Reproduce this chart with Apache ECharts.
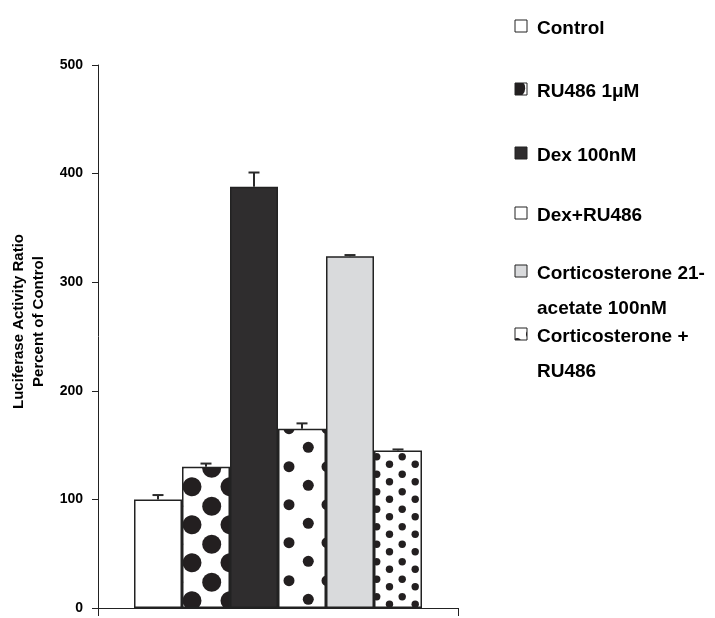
<!DOCTYPE html>
<html>
<head>
<meta charset="utf-8">
<script src="https://cdn.jsdelivr.net/npm/echarts@6/dist/echarts.min.js"></script>
<style>html,body{margin:0;padding:0;background:#fff}#c{width:715px;height:618px}</style>
</head>
<body>
<div id="c"></div>
<script>
const categories = [''];
const seriesNames = ['Control', 'RU486 1μM', 'Dex 100nM', 'Dex+RU486', 'Corticosterone 21-acetate 100nM', 'Corticosterone + RU486'];
const legendLines = [['Control'], ['RU486 1μM'], ['Dex 100nM'], ['Dex+RU486'], ['Corticosterone 21-', 'acetate 100nM'], ['Corticosterone +', 'RU486']];
const values = [100, 130, 388, 165, 324, 145];
const errors = [4, 3, 13, 5, 1, 1];
const yMin = 0, yMax = 500, yInterval = 100;
const axisName = 'Luciferase Activity Ratio\nPercent of Control';

function dotPattern(w, h, r, pts) {
  const c = document.createElement('canvas');
  c.width = w; c.height = h;
  const g = c.getContext('2d');
  g.fillStyle = '#fff'; g.fillRect(0, 0, w, h);
  g.fillStyle = '#231f20';
  pts.forEach(([x, y]) => {
    for (const dx of [-w, 0, w]) for (const dy of [-h, 0, h]) {
      g.beginPath(); g.arc(x + dx, y + dy, r, 0, Math.PI * 2); g.fill();
    }
  });
  return { image: c, repeat: 'repeat' };
}
const fills = [
  '#ffffff',
  dotPattern(38, 38, 9.5, [[2, 30.7], [21.7, 12.3]]),
  '#2f2d2e',
  dotPattern(38, 38, 5.5, [[23, 10.7], [4.3, 29.3]]),
  '#d9dadc',
  dotPattern(51, 35, 3.7, [[19.7, 1.7], [19.7, 19.2], [45.2, 1.7], [45.2, 19.2], [7.2, 9.3], [7.2, 26.8], [32.5, 9.3], [32.5, 26.8]])
];

const FONT = '"Liberation Sans", Arial, sans-serif';
const chart = echarts.init(document.getElementById('c'), null, { renderer: 'canvas' });

const barSeries = seriesNames.map((n, i) => ({
  type: 'bar', name: n, data: [values[i]],
  barGap: '0%', barCategoryGap: '20%',
  itemStyle: { color: fills[i], borderColor: '#222', borderWidth: 1.5 },
  z: 2
}));

const errData = values.map((v, i) => [0, v, errors[i], i]);
const nBars = values.length;
const errSeries = {
  type: 'custom', data: errData, encode: { x: 0, y: 1 }, z: 10,
  renderItem: function (params, api) {
    const v = api.value(1), e = api.value(2), idx = api.value(3);
    const base = api.coord([0, v]);
    const top = api.coord([0, v + e]);
    const cw = api.size([1, 0])[0];
    const bw = cw * 0.8 / nBars;
    const x = base[0] + (idx - (nBars - 1) / 2) * bw;
    const st = { stroke: '#2a2a2a', lineWidth: 2 };
    return {
      type: 'group', children: [
        { type: 'line', shape: { x1: x, y1: base[1], x2: x, y2: top[1] }, style: st },
        { type: 'line', shape: { x1: x - 5.5, y1: top[1], x2: x + 5.5, y2: top[1] }, style: st }
      ]
    };
  }
};

const iconTops = [20, 83, 147, 207, 265, 328];
const graphics = [];
legendLines.forEach((lines, i) => {
  graphics.push({
    type: 'rect', shape: { x: 515, y: iconTops[i], width: 12, height: 12 },
    style: { fill: fills[i], stroke: '#222', lineWidth: 1 }, z: 100
  });
  graphics.push({
    type: 'text', x: 537, y: iconTops[i] + 9 - 17.5,
    style: { text: lines.join('\n'), font: 'bold 19px ' + FONT, fill: '#000', lineHeight: 35, verticalAlign: 'top' }, z: 100
  });
});

chart.setOption({
  animation: false,
  backgroundColor: '#fff',
  grid: { left: 98, right: 257, top: 65, bottom: 10, containLabel: false },
  xAxis: {
    type: 'category', data: categories,
    axisLine: { lineStyle: { color: '#222', width: 1 } },
    axisTick: { show: true, length: 8, lineStyle: { color: '#222' } },
    axisLabel: { show: false },
    splitLine: { show: false }
  },
  yAxis: {
    type: 'value', min: yMin, max: yMax, interval: yInterval,
    name: axisName, nameLocation: 'middle', nameGap: 46,
    nameTextStyle: { fontFamily: FONT, fontWeight: 'bold', fontSize: 15, lineHeight: 20, color: '#000', padding: [0, 0, 0, 30] },
    axisLine: { show: true, lineStyle: { color: '#222', width: 1 } },
    axisTick: { show: true, length: 6, lineStyle: { color: '#222' } },
    axisLabel: { fontFamily: FONT, fontWeight: 'bold', fontSize: 14, color: '#000', margin: 15 },
    splitLine: { show: false }
  },
  series: barSeries.concat([errSeries]),
  graphic: graphics
});
</script>
</body>
</html>
